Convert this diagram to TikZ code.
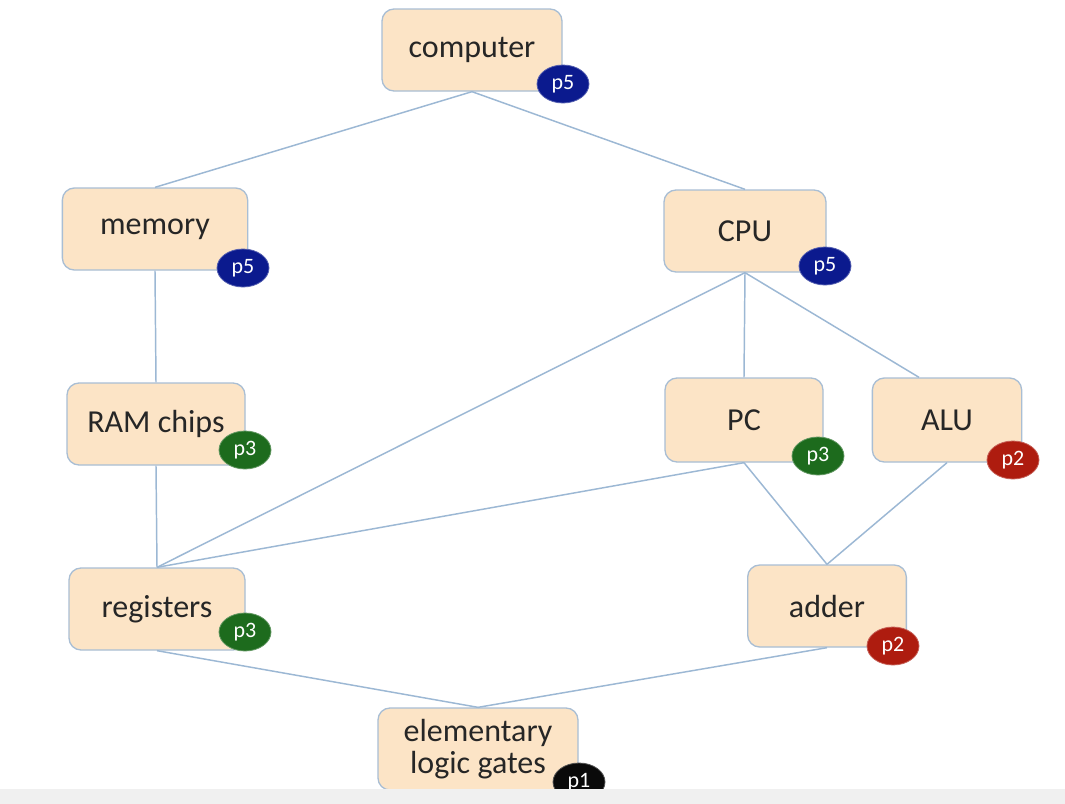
\documentclass[tikz,border=0pt]{standalone}
\usepackage{fontspec}
\setmainfont{Carlito}
\usetikzlibrary{shapes.geometric}
\definecolor{boxfill}{HTML}{FCE4C6}
\definecolor{boxdraw}{HTML}{A9BED4}
\definecolor{edgec}{HTML}{9CB8D4}
\definecolor{pblue}{HTML}{0B1A8E}
\definecolor{pgreen}{HTML}{1D6B1D}
\definecolor{pred}{HTML}{AE1C0F}
\definecolor{pblack}{HTML}{0A0A0A}
\definecolor{stripc}{HTML}{F0F0F0}
\begin{document}
\begin{tikzpicture}[x=0.75pt,y=-0.75pt,
  box/.style={draw=boxdraw,line width=1pt,fill=boxfill,rounded corners=9pt,
    minimum height=61.5pt,align=center,font=\fontsize{24}{24}\selectfont,text=black!85},
  badge/.style={ellipse,fill=#1,draw=#1!70!white,line width=0.6pt,minimum width=39pt,minimum height=28.5pt,inner sep=0pt,
    text=white,font=\fontsize{16.5}{16.5}\selectfont},
  edge/.style={draw=edgec,line width=1.1pt}]
\useasboundingbox (0,0) rectangle (1065,804);
\fill[white] (0,0) rectangle (1065,804);
% nodes
\node[box,minimum width=135pt] (computer) at (472,50) {computer};
\node[box,minimum width=139pt] (memory) at (155,229) {memory};
\node[box,minimum width=121.5pt] (cpu) at (745,231) {CPU};
\node[box,minimum width=133.5pt] (ram) at (156,424) {RAM chips};
\node[box,minimum width=118.5pt,minimum height=63pt] (pc) at (744,420) {PC};
\node[box,minimum width=112pt,minimum height=63pt] (alu) at (947,420) {ALU};
\node[box,minimum width=132pt] (registers) at (157,609) {registers};
\node[box,minimum width=119pt] (adder) at (827,606) {adder};
\node[box,minimum width=150pt] (gates) at (478,749) {elementary\\logic gates};
% edges
\draw[edge] (computer.south) -- (memory.north);
\draw[edge] (computer.south) -- (cpu.north);
\draw[edge] (memory.south) -- (ram.north);
\draw[edge] (ram.south) -- (registers.north);
\draw[edge] (cpu.south) -- (registers.north);
\draw[edge] (cpu.south) -- (pc.north);
\draw[edge] (cpu.south) -- ([xshift=-21pt]alu.north);
\draw[edge] (pc.south) -- (registers.north);
\draw[edge] (pc.south) -- (adder.north);
\draw[edge] (alu.south) -- (adder.north);
\draw[edge] (registers.south) -- (gates.north);
\draw[edge] (adder.south) -- (gates.north);
% badges
\node[badge=pblue] (b1) at (563,84) {p5};
\node[badge=pblue] (b2) at (243,268) {p5};
\node[badge=pblue] (b3) at (825,266) {p5};
\node[badge=pgreen] (b4) at (245,450) {p3};
\node[badge=pgreen] (b5) at (818,456) {p3};
\node[badge=pred] (b6) at (1013,460) {p2};
\node[badge=pgreen] (b7) at (245,632) {p3};
\node[badge=pred] (b8) at (893,646) {p2};
\node[badge=pblack] (b9) at (579,782) {p1};
% bottom strip
\fill[stripc] (0,789) rectangle (1065,804);
\end{tikzpicture}
\end{document}
